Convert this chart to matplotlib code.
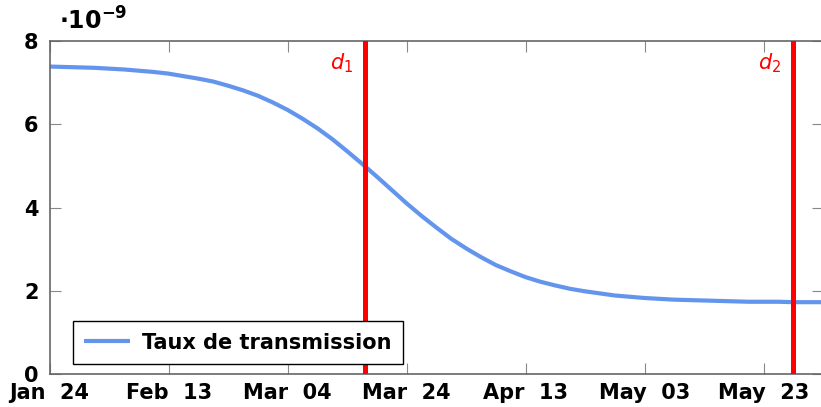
import matplotlib
matplotlib.use("Agg")
import matplotlib.pyplot as plt
import datetime as dt

# dates: days since Jan 24, 2020 (one point every 2.5 days)
start = dt.date(2020, 1, 24)
days = [i * 2.5 for i in range(53)]
# taux de transmission (x 1e-9)
taux = [7.38, 7.37, 7.36, 7.35, 7.33, 7.31, 7.28, 7.25, 7.21, 7.15,
        7.09, 7.02, 6.92, 6.81, 6.68, 6.52, 6.34, 6.13, 5.90, 5.64,
        5.35, 5.05, 4.74, 4.42, 4.10, 3.80, 3.52, 3.25, 3.02, 2.81,
        2.62, 2.47, 2.33, 2.22, 2.13, 2.05, 1.99, 1.94, 1.89, 1.86,
        1.83, 1.81, 1.79, 1.78, 1.77, 1.76, 1.75, 1.74, 1.74, 1.74,
        1.73, 1.73, 1.73]

d1 = dt.date(2020, 3, 17)
d2 = dt.date(2020, 5, 28)
tick_dates = [dt.date(2020, 1, 24), dt.date(2020, 2, 13), dt.date(2020, 3, 4),
              dt.date(2020, 3, 24), dt.date(2020, 4, 13), dt.date(2020, 5, 3),
              dt.date(2020, 5, 23)]
tick_labels = ["Jan  24", "Feb  13", "Mar  04", "Mar  24", "Apr  13", "May  03", "May  23"]

x = [dt.datetime(2020, 1, 24) + dt.timedelta(days=d) for d in days]

fig = plt.figure(figsize=(8.21, 4.07), dpi=100)
ax = fig.add_axes([0.0605, 0.0803, 0.9420, 0.8197])

ax.plot(x, taux, color="cornflowerblue", lw=3.0, label="Taux de transmission",
        solid_capstyle="butt", zorder=2)
ax.axvline(d1, color="red", lw=3.6, zorder=3)
ax.axvline(d2, color="red", lw=3.6, zorder=3)

ax.set_xlim(start, dt.date(2020, 6, 2))
ax.set_ylim(0, 8)

ax.set_xticks(tick_dates)
ax.set_xticklabels(tick_labels)
ax.set_yticks([0, 2, 4, 6, 8])

for lab in ax.get_xticklabels() + ax.get_yticklabels():
    lab.set_fontweight("bold")
    lab.set_fontsize(15)

ax.tick_params(direction="in", length=8, width=0.8, color="#888888",
               top=True, right=True)
ax.tick_params(axis="x", pad=6)
ax.tick_params(axis="y", pad=8)
for s in ax.spines.values():
    s.set_color("#666666")
    s.set_linewidth(1.2)

# labels of vertical lines
ax.text(d1 - dt.timedelta(days=2), 7.45, "$d_1$", color="red", fontsize=15,
        ha="right", va="center")
ax.text(d2 - dt.timedelta(days=2), 7.45, "$d_2$", color="red", fontsize=15,
        ha="right", va="center")

# axis multiplier
fig.text(0.072, 0.948, r"$\mathbf{\cdot 10^{-9}}$", fontsize=17, ha="left", va="center")

leg = ax.legend(loc="lower left", bbox_to_anchor=(0.030, 0.031), borderaxespad=0,
                fancybox=False, framealpha=1, edgecolor="black",
                prop={"weight": "bold", "size": 15},
                handlelength=2.2, borderpad=0.55, handletextpad=0.55)
leg.get_frame().set_linewidth(1.0)

plt.savefig("out.png", dpi=100)
plt.close()
